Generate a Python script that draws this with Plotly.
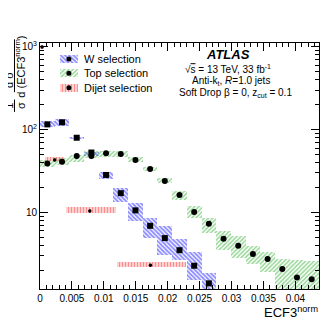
import plotly.graph_objects as go

# binning of the W / top histograms
bin_edges = [0.0, 0.0023, 0.0046, 0.0069, 0.0092, 0.0115, 0.0138, 0.0161, 0.0184, 0.0207,
             0.023, 0.0253, 0.0276, 0.0299, 0.0322, 0.0345, 0.0368, 0.0391, 0.0414, 0.0437]

# W selection
w_val = [116, 123, 80, 53, 28.4, 17.1, 10.6, 6.9, 4.9, 3.5, 2.27, 1.39]
w_lo = [107, 111, 76.7, 47.5, 25.4, 13.4, 7.9, 4.9, 3.06, 2.67, 1.53, 1.05]
w_hi = [126, 134, 82.6, 54.5, 30.9, 19.8, 13.0, 8.6, 6.9, 4.8, 3.33, 1.88]

# Top selection
top_val = [39, 41, 48, 48, 52, 51, 43, 33.6, 24, 16.3, 10.1, 7.3, 4.8, 3.97, 3.15, 2.74, 2.07, 1.64, 1.56]
top_lo = [35.5, 37.5, 40.8, 45, 46.9, 46.9, 40.4, 32, 22.5, 14.2, 8.5, 5.7, 3.52, 2.8, 2.38, 1.9, 1.15, 1.05, 1.05]
top_hi = [43.2, 45.6, 49.6, 55.4, 55.4, 55.4, 46.4, 35.2, 25.9, 18.4, 12.0, 8.65, 5.97, 5.2, 3.94, 3.33, 2.75, 2.7, 2.6]

# Dijet selection (variable bins)
dj_x = [0.00034, 0.0023, 0.0078, 0.0173]
dj_edge_lo = [0.0, 0.0008, 0.004, 0.012]
dj_edge_hi = [0.0005, 0.0037, 0.0119, 0.0228]
dj_val = [1000, 43, 10.4, 2.3]
dj_lo = [950, 41.5, 9.8, 2.2]
dj_hi = [1050, 47, 11.6, 2.55]

x_ticks = [0, 0.005, 0.01, 0.015, 0.02, 0.025, 0.03, 0.035, 0.04]
x_ticktext = ["0", "0.005", "0.01", "0.015", "0.02", "0.025", "0.03", "0.035", "0.04"]

names = ["W selection", "Top selection", "Dijet selection"]
colors = ["#1a1aff", "#2fae2f", "#ff1a1a"]
hatches = ["\\", "/", "|"]

centers = [(a + b) / 2 for a, b in zip(bin_edges[:-1], bin_edges[1:])]
widths = [b - a for a, b in zip(bin_edges[:-1], bin_edges[1:])]

FONT = "Liberation Sans, Arial, Helvetica, sans-serif"
PAT = {"\\": (3, 0.62), "/": (3, 0.5), "|": (3, 0.6)}

fig = go.Figure()


def band(x, w, lo, hi, k, xa="x", ya="y"):
    size, sol = PAT[hatches[k]]
    fig.add_trace(go.Bar(
        x=x, width=w, base=lo, y=[h - l for h, l in zip(hi, lo)],
        xaxis=xa, yaxis=ya, showlegend=False,
        marker=dict(color="rgba(0,0,0,0)", line=dict(width=0),
                    pattern=dict(shape=hatches[k], fgcolor=colors[k], bgcolor="rgba(0,0,0,0)",
                                 size=size, solidity=sol)),
        hoverinfo="skip"))


band(centers[:len(w_val)], widths[:len(w_val)], w_lo, w_hi, 0)
band(centers, widths, top_lo, top_hi, 1)
dj_c = [(a + b) / 2 for a, b in zip(dj_edge_lo, dj_edge_hi)]
dj_w = [b - a for a, b in zip(dj_edge_lo, dj_edge_hi)]
band(dj_c, dj_w, dj_lo, dj_hi, 2)

fig.add_trace(go.Scatter(x=centers[:len(w_val)], y=w_val, mode="markers", showlegend=False,
                         marker=dict(symbol="square", size=6, color="black")))
fig.add_trace(go.Scatter(x=centers, y=top_val, mode="markers", showlegend=False,
                         marker=dict(symbol="circle", size=6, color="black")))
fig.add_trace(go.Scatter(x=dj_x, y=dj_val, mode="markers", showlegend=False,
                         error_y=dict(type="percent", value=4, width=0, thickness=1, color="black"),
                         marker=dict(symbol="circle", size=3.5, color="black")))

# hand-made legend on an overlay axis spanning the plot area
leg_y = [0.935, 0.877, 0.818]
for k, yc in enumerate(leg_y):
    band([0.1035], [0.064], [yc - 0.017], [yc + 0.017], k, "x2", "y2")
fig.add_trace(go.Scatter(x=[0.1035] * 3, y=leg_y, xaxis="x2", yaxis="y2", mode="markers",
                         showlegend=False, marker=dict(size=5, color="black")))
for name, yc in zip(names, leg_y):
    fig.add_annotation(text=name, x=0.152, y=yc, xref="paper", yref="paper", showarrow=False,
                       xanchor="left", yanchor="middle", font=dict(size=11))

# page body adds an 8px offset, margins are compensated for it
fig.update_layout(
    width=332, height=322,
    margin=dict(l=32, r=21, t=35, b=41),
    paper_bgcolor="white", plot_bgcolor="white",
    font=dict(family=FONT, size=10, color="black"),
    barmode="overlay", bargap=0, showlegend=False,
    xaxis2=dict(range=[0, 1], overlaying="x", visible=False, fixedrange=True),
    yaxis2=dict(range=[0, 1], overlaying="y", visible=False, fixedrange=True),
)

fig.update_layout(xaxis=dict(
    range=[0, 0.0437], tickvals=x_ticks, ticktext=x_ticktext,
    ticks="inside", ticklen=8, tickcolor="black", showgrid=False, zeroline=False,
    showline=True, linecolor="black", linewidth=1, mirror="allticks",
    minor=dict(dtick=0.001, ticks="inside", ticklen=4, tickcolor="black", showgrid=False),
    tickfont=dict(size=10)))
fig.update_layout(yaxis=dict(
    type="log", range=[0.075, 3.048],
    tickvals=[10, 100, 1000], ticktext=["10", "10<sup>2</sup>", "10<sup>3</sup>"],
    ticks="inside", ticklen=8, tickcolor="black", showgrid=False, zeroline=False,
    showline=True, linecolor="black", linewidth=1, mirror="allticks",
    minor=dict(tickvals=[2, 3, 4, 5, 6, 7, 8, 9, 20, 30, 40, 50, 60, 70, 80, 90,
                         200, 300, 400, 500, 600, 700, 800, 900],
               ticks="inside", ticklen=4, tickcolor="black", showgrid=False),
    tickfont=dict(size=10)))

# ATLAS label block
txt = [
    ("<b><i>ATLAS</i></b>", 0.675, 0.955, 13),
    ("√<span style='text-decoration:overline'>s</span> = 13 TeV, 33 fb<sup>-1</sup>", 0.675, 0.895, 10),
    ("Anti-k<sub>t</sub>, <i>R</i>=1.0 jets", 0.685, 0.845, 10),
    ("Soft Drop β = 0, z<sub>cut</sub> = 0.1", 0.7, 0.795, 10),
]
for t, x, y, s in txt:
    fig.add_annotation(text=t, x=x, y=y, xref="paper", yref="paper", showarrow=False,
                       xanchor="center", yanchor="middle", font=dict(size=s))

# x axis title
fig.add_annotation(text="ECF3<sup>norm</sup>", x=1.005, y=-0.093, xref="paper", yref="paper",
                   showarrow=False, xanchor="right", yanchor="middle", font=dict(size=13))

# y axis title as stacked fractions
for t, x, y in [("1", -0.111, 0.745), ("σ", -0.0706, 0.745),
                ("d σ", -0.111, 0.85), ("d (ECF3<sup>norm</sup>)", -0.0706, 0.905)]:
    fig.add_annotation(text=t, x=x, y=y, xref="paper", yref="paper", showarrow=False,
                       textangle=-90, xanchor="center", yanchor="middle", font=dict(size=11))
fig.add_shape(type="line", xref="paper", yref="paper", x0=-0.0914, x1=-0.0914, y0=0.72, y1=0.77,
              line=dict(color="black", width=1))
fig.add_shape(type="line", xref="paper", yref="paper", x0=-0.0914, x1=-0.0914, y0=0.80, y1=1.015,
              line=dict(color="black", width=1))

fig.write_html("out.html")
